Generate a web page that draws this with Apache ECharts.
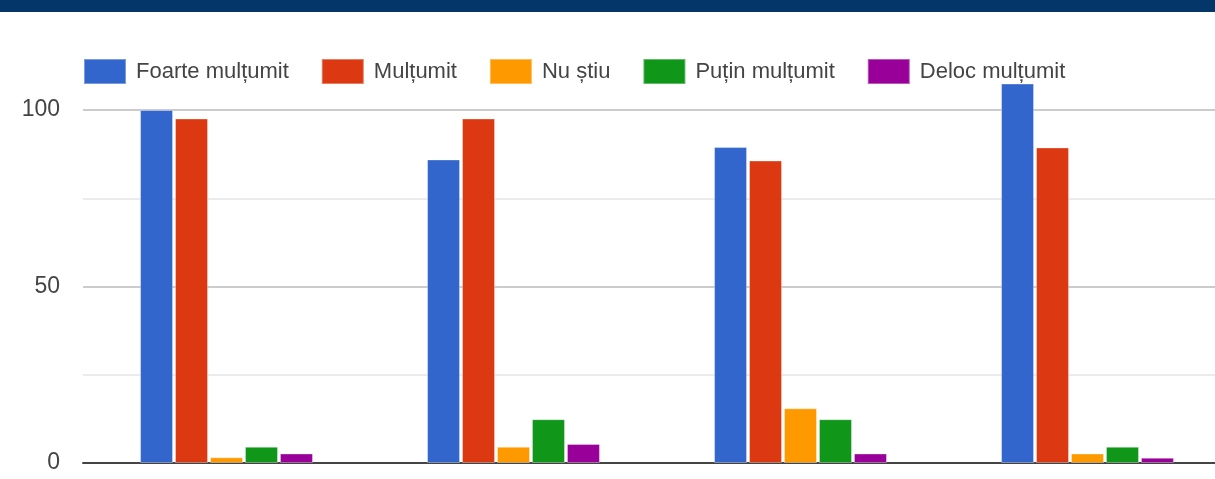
<!DOCTYPE html>
<html>
<head>
<meta charset="utf-8">
<script src="https://cdn.jsdelivr.net/npm/echarts@6/dist/echarts.min.js"></script>
<style>
  html, body { margin: 0; padding: 0; background: #fff; overflow: hidden; }
  /* graficul e mai lat decat fereastra: ultima grupa e taiata la dreapta */
  #myChart { width: 1232px; height: 479px; }
</style>
</head>
<body>
<div id="myChart"></div>
<script>
// categorii (fara etichete vizibile pe axa)
var categories = ['Grupa 1', 'Grupa 2', 'Grupa 3', 'Grupa 4']
var seriesNames = ['Foarte mulțumit', 'Mulțumit', 'Nu știu', 'Puțin mulțumit', 'Deloc mulțumit']
var foarteMultumit = [100, 86, 89.5, 107.5]
var multumit = [97.6, 97.6, 85.7, 89.4]
var nuStiu = [1.6, 4.6, 15.5, 2.7]
var putinMultumit = [4.6, 12.4, 12.4, 4.6]
var delocMultumit = [2.7, 5.4, 2.7, 1.5]
var yTicks = [0, 50, 100]

var colors = ['#3366cc', '#dc3912', '#ff9900', '#109618', '#990099']
var values = [foarteMultumit, multumit, nuStiu, putinMultumit, delocMultumit]
var font = "'Liberation Sans', Arial, sans-serif"

var myChart = echarts.init(document.getElementById('myChart'))
myChart.setOption({
  animation: false,
  color: colors,
  graphic: [
    // banda albastra de sus
    { type: 'rect', left: 0, top: 0, shape: { width: 1232, height: 12 }, style: { fill: '#043669' }, z: 0 }
  ],
  legend: {
    left: 83,
    top: 58,
    padding: 0,
    itemWidth: 42,
    itemHeight: 25,
    itemGap: 32,
    icon: 'rect',
    z: 10,
    textStyle: { fontFamily: font, fontSize: 22, color: '#444', padding: [0, 0, 0, 5] },
    data: seriesNames
  },
  grid: { left: 83, top: 110, width: 1148, height: 353, containLabel: false },
  xAxis: {
    type: 'category',
    data: categories,
    axisLine: { lineStyle: { color: '#444', width: 2 } },
    axisTick: { show: false },
    axisLabel: { show: false }
  },
  yAxis: {
    type: 'value',
    min: 0,
    max: 100,
    interval: 25,
    axisLine: { show: false },
    axisTick: { show: false },
    axisLabel: {
      margin: 23,
      fontFamily: font,
      fontSize: 23,
      color: '#444',
      formatter: function (v) { return yTicks.indexOf(v) >= 0 ? String(v) : '' }
    },
    splitLine: { lineStyle: { color: ['#cccccc', '#ebebeb'], width: 2 } }
  },
  series: seriesNames.map(function (name, i) {
    return {
      name: name,
      type: 'bar',
      data: values[i],
      barWidth: 33,
      barGap: '6%',
      clip: false,
      itemStyle: { borderColor: 'rgba(255,255,255,0.35)', borderWidth: 1 }
    }
  })
})
</script>
</body>
</html>
